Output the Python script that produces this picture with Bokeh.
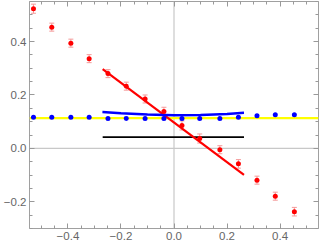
from bokeh.plotting import figure
from bokeh.models import (Range1d, FixedTicker, LinearAxis, Span, Whisker,
                          ColumnDataSource, TeeHead, CustomJSTickFormatter)
from bokeh.embed import file_html
from bokeh.resources import INLINE

# ---- data ----
pts_x = [-0.530, -0.461, -0.389, -0.320, -0.249, -0.180, -0.109, -0.038,
         0.030, 0.097, 0.173, 0.243, 0.313, 0.382, 0.454]
red_y = [0.523, 0.454, 0.394, 0.336, 0.280, 0.233, 0.185, 0.138,
         0.086, 0.037, -0.005, -0.058, -0.119, -0.179, -0.237]
red_err = [0.017, 0.015, 0.015, 0.015, 0.015, 0.015, 0.015, 0.016,
           0.017, 0.017, 0.015, 0.016, 0.015, 0.015, 0.016]
blue_y = [0.117, 0.117, 0.117, 0.117, 0.112, 0.112, 0.112, 0.112,
          0.112, 0.112, 0.112, 0.117, 0.122, 0.126, 0.126]

red_fit_x = [-0.269, 0.264]
red_fit_y = [0.297, -0.099]

blue_curve_x = [-0.27, -0.2, -0.1, 0.0, 0.1, 0.2, 0.264]
blue_curve_y = [0.136, 0.132, 0.127, 0.124, 0.125, 0.129, 0.133]

black_x = [-0.269, 0.264]
black_y = [0.042, 0.042]

yellow_x = [-0.545, 0.545]
yellow_y = [0.113, 0.113]

x_major = [-0.4, -0.2, 0.0, 0.2, 0.4]
y_major = [-0.2, 0.0, 0.2, 0.4]

x_minor = [round(-0.55 + 0.05 * i, 2) for i in range(23)]
y_minor = [round(-0.3 + 0.05 * i, 2) for i in range(18)]

# ---- figure ----
p = figure(width=320, height=242, output_backend="svg", toolbar_location=None,
           x_range=Range1d(-0.545, 0.545), y_range=Range1d(-0.30, 0.55),
           min_border_left=26, min_border_right=2, min_border_top=1,
           min_border_bottom=1, x_axis_type=None, y_axis_type=None)
p.grid.visible = False
p.outline_line_color = "#a0a0a0"
p.outline_line_width = 1
p.background_fill_color = "white"
p.border_fill_color = "white"

fmt = CustomJSTickFormatter(code="""
    if (Math.abs(tick) < 1e-9) return '0.0';
    var s = tick.toFixed(1);
    return s.replace('-', '\u2212');
""")
blank = CustomJSTickFormatter(code="return '';")

def make_axis(major, minor, labels=True):
    ax = LinearAxis(ticker=FixedTicker(ticks=major, minor_ticks=minor))
    ax.axis_line_color = None
    ax.major_tick_in = 5
    ax.major_tick_out = 0
    ax.minor_tick_in = 3
    ax.minor_tick_out = 0
    ax.major_tick_line_color = "#999999"
    ax.minor_tick_line_color = "#999999"
    ax.major_label_text_font = "Liberation Sans"
    ax.major_label_text_font_size = "11.5px"
    ax.major_label_text_color = "#666666"
    ax.major_label_standoff = 3
    if labels:
        ax.formatter = fmt
    else:
        ax.formatter = blank
        ax.major_label_text_font_size = "0px"
        ax.major_label_standoff = 0
    return ax

p.add_layout(make_axis(x_major, x_minor), "below")
p.add_layout(make_axis(y_major, y_minor), "left")
p.add_layout(make_axis(x_major, x_minor, labels=False), "above")
p.add_layout(make_axis(y_major, y_minor, labels=False), "right")

# zero axes lines
p.add_layout(Span(location=0, dimension="width", line_color="#c8c8c8",
                  line_width=1.2, level="underlay"))
p.add_layout(Span(location=0, dimension="height", line_color="#c8c8c8",
                  line_width=1.2, level="underlay"))

# red error bars (under the glyphs)
src = ColumnDataSource(dict(x=pts_x, y=red_y,
                            lo=[y - e for y, e in zip(red_y, red_err)],
                            hi=[y + e for y, e in zip(red_y, red_err)]))
w = Whisker(source=src, base="x", lower="lo", upper="hi", level="underlay",
            line_color="#f49a9a", line_width=1,
            upper_head=TeeHead(size=5, line_color="#f49a9a", line_width=1),
            lower_head=TeeHead(size=5, line_color="#f49a9a", line_width=1))
p.add_layout(w)

# yellow line
p.line(yellow_x, yellow_y, line_color="#ffff00", line_width=2.2)

# black line
p.line(black_x, black_y, line_color="black", line_width=1.6)

# red fit line
p.line(red_fit_x, red_fit_y, line_color="#ff0000", line_width=2.2)

# blue curve
p.line(blue_curve_x, blue_curve_y, line_color="#0000ff", line_width=2.5)

# points
p.scatter(pts_x, blue_y, size=5, fill_color="#0000ff", line_color=None)
p.scatter(pts_x, red_y, size=5, fill_color="#ff0000", line_color=None)

open("out.html", "w").write(file_html(p, INLINE))
